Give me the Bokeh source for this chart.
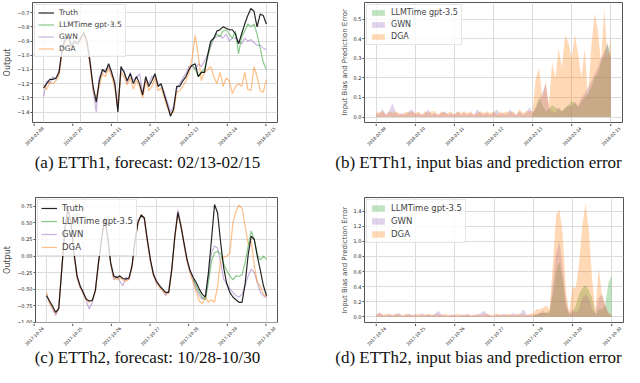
from math import pi
from bokeh.plotting import figure
from bokeh.models import Range1d, FixedTicker, Legend, LegendItem, Label, Grid
from bokeh.core.properties import value
from bokeh.layouts import column, row
from bokeh.embed import file_html
from bokeh.resources import INLINE

# ---------------- data ----------------
hours = list(range(0, 145, 2))          # 2-hourly samples over 6 days
FC = 48                                  # index where the forecast window begins
day_ticks = [0, 24, 48, 72, 96, 120, 144]
days_h1 = ["2018-02-09", "2018-02-10", "2018-02-11", "2018-02-12", "2018-02-13", "2018-02-14", "2018-02-15"]
days_h2 = ["2017-10-24", "2017-10-25", "2017-10-26", "2017-10-27", "2017-10-28", "2017-10-29", "2017-10-30"]

# (a) ETTh1 series
truth_a = [-1.23, -1.20, -1.17, -1.17, -1.16, -1.12, -0.95, -0.88, -0.87, -0.93,
           -0.90, -0.92, -0.88, -0.84, -0.90, -1.05, -1.22, -1.33, -1.18, -1.10,
           -1.12, -1.06, -1.12, -1.20, -1.40, -1.08, -1.12, -1.18, -1.13, -1.20,
           -1.15, -1.20, -1.28, -1.15, -1.22, -1.18, -1.13, -1.22, -1.20, -1.28,
           -1.35, -1.43, -1.38, -1.22, -1.22, -1.18, -1.15, -1.10, -1.07, -1.06,
           -1.15, -1.12, -1.12, -1.00, -0.90, -0.88, -0.83, -0.82, -0.80, -0.81,
           -0.82, -0.82, -0.85, -0.92, -0.85, -0.78, -0.72, -0.67, -0.69, -0.80,
           -0.71, -0.72, -0.78]
llm_a = [-1.07, -1.10, -1.15, -1.12, -1.10, -1.02, -0.92, -0.88, -0.85, -0.87,
         -0.83, -0.82, -0.85, -0.88, -0.83, -0.99, -0.87, -0.83, -0.78, -0.80,
         -0.78, -0.85, -0.95, -1.05, -1.10]
gwn_a = [-1.29, -1.18, -1.20, -1.15, -1.17, -1.10, -0.97, -0.90, -0.86, -0.95,
         -0.89, -0.93, -0.87, -0.85, -0.92, -1.03, -1.25, -1.40, -1.15, -1.12,
         -1.10, -1.08, -1.14, -1.18, -1.38, -1.10, -1.11, -1.20, -1.12, -1.18,
         -1.16, -1.13, -1.26, -1.17, -1.20, -1.15, -1.15, -1.20, -1.22, -1.26,
         -1.33, -1.40, -1.36, -1.24, -1.20, -1.16, -1.13, -1.08,
         -1.07, -1.10, -1.06, -1.08, -1.04, -1.00, -0.94, -0.88, -0.87, -0.86,
         -0.88, -0.85, -0.90, -0.88, -0.88, -0.90, -0.92, -0.88, -0.90, -0.89,
         -0.91, -0.93, -0.93, -0.95, -0.96]
dga_a = [-1.21, -1.24, -1.19, -1.20, -1.18, -1.14, -0.97, -0.90, -0.90, -0.95,
         -0.92, -0.90, -0.90, -0.86, -0.93, -1.07, -1.25, -1.30, -1.22, -1.13,
         -1.15, -1.09, -1.15, -1.23, -1.36, -1.12, -1.15, -1.21, -1.16, -1.24,
         -1.18, -1.22, -1.30, -1.18, -1.25, -1.22, -1.16, -1.25, -1.23, -1.30,
         -1.37, -1.41, -1.40, -1.26, -1.25, -1.22, -1.18, -1.12,
         -1.02, -0.86, -1.00, -1.18, -1.12, -1.10, -1.08, -1.15, -1.20, -1.12,
         -1.22, -1.16, -1.18, -1.27, -1.22, -1.20, -1.22, -1.12, -1.24, -1.25,
         -1.08, -1.15, -1.25, -1.26, -1.17]

# (b) ETTh1 input bias / prediction error
err_llm_b = [0.01, 0.05, 0.10, 0.06, 0.03, 0.04, 0.06, 0.05, 0.04, 0.03,
             0.05, 0.06, 0.08, 0.07, 0.05, 0.08, 0.10, 0.12, 0.15, 0.20,
             0.22, 0.28, 0.32, 0.38, 0.30]
err_gwn_b = [0.01, 0.02, 0.04, 0.01, 0.03, 0.07, 0.02, 0.01, 0.02, 0.01,
             0.03, 0.04, 0.01, 0.02, 0.01, 0.02, 0.04, 0.01, 0.02, 0.01,
             0.02, 0.03, 0.01, 0.02, 0.01, 0.03, 0.01, 0.02, 0.01, 0.02,
             0.01, 0.04, 0.02, 0.01, 0.02, 0.01, 0.02, 0.04, 0.01, 0.02,
             0.01, 0.04, 0.02, 0.01, 0.03, 0.01, 0.02, 0.05,
             0.02, 0.05, 0.08, 0.12, 0.17, 0.05, 0.03, 0.02, 0.05, 0.03,
             0.04, 0.06, 0.05, 0.08, 0.06, 0.10, 0.12, 0.15, 0.18, 0.22,
             0.25, 0.30, 0.33, 0.37, 0.30]
err_dga_b = [0.03, 0.02, 0.03, 0.01, 0.03, 0.02, 0.03, 0.02, 0.01, 0.03,
             0.02, 0.03, 0.02, 0.03, 0.01, 0.03, 0.02, 0.03, 0.03, 0.01,
             0.03, 0.02, 0.02, 0.03, 0.01, 0.03, 0.02, 0.03, 0.02, 0.03,
             0.01, 0.02, 0.03, 0.02, 0.03, 0.02, 0.03, 0.01, 0.03, 0.02,
             0.03, 0.02, 0.03, 0.01, 0.04, 0.02, 0.03, 0.03,
             0.03, 0.20, 0.25, 0.10, 0.18, 0.06, 0.28, 0.20, 0.35, 0.25,
             0.42, 0.38, 0.30, 0.42, 0.32, 0.20, 0.35, 0.10, 0.35, 0.53,
             0.45, 0.28, 0.55, 0.30, 0.40]

# (c) ETTh2 series
truth_c = [-0.60, -0.68, -0.76, -0.85, -0.80, -0.20, 0.40, 0.72, 0.52, 0.05,
           -0.30, -0.45, -0.55, -0.65, -0.68, -0.67, -0.52, -0.10, 0.25, 0.57,
           0.30, -0.10, -0.30, -0.33, -0.30, -0.34, -0.35, -0.33, -0.15, 0.25,
           0.52, 0.62, 0.58, 0.25, -0.05, -0.28, -0.38, -0.45, -0.50, -0.55,
           -0.55, -0.20, 0.30, 0.66, 0.45, 0.20, -0.05, -0.22, -0.32, -0.40,
           -0.50, -0.58, -0.62, -0.25, 0.25, 0.78, 0.65, 0.20, -0.18, -0.42,
           -0.55, -0.62, -0.66, -0.70, -0.70, -0.42, 0.02, 0.30, 0.25, 0.00,
           -0.22, -0.45, -0.60]
llm_c = [-0.35, -0.45, -0.55, -0.63, -0.66, -0.40, -0.08, 0.05, 0.07, 0.04,
         -0.12, -0.22, -0.30, -0.36, -0.30, -0.31, -0.28, -0.10, 0.15, 0.38,
         0.25, 0.02, -0.06, 0.00, -0.05]
gwn_c = [-0.58, -0.70, -0.80, -0.90, -0.78, -0.22, 0.38, 0.70, 0.55, 0.02,
         -0.33, -0.48, -0.52, -0.68, -0.80, -0.70, -0.50, -0.12, 0.22, 0.58,
         0.28, -0.12, -0.36, -0.30, -0.38, -0.45, -0.32, -0.36, -0.12, 0.22,
         0.55, 0.60, 0.56, 0.22, -0.08, -0.25, -0.42, -0.43, -0.52, -0.60,
         -0.52, -0.18, 0.28, 0.70, 0.48, 0.17, -0.08, -0.25,
         -0.35, -0.50, -0.60, -0.65, -0.60, -0.30, 0.05, 0.15, 0.12, -0.10,
         -0.35, -0.42, -0.50, -0.55, -0.60, -0.62, -0.58, -0.45, -0.30, -0.20,
         -0.25, -0.40, -0.55, -0.60, -0.63]
dga_c = [-0.55, -0.72, -0.78, -0.87, -0.78, -0.18, 0.42, 0.70, 0.50, 0.03,
         -0.32, -0.47, -0.57, -0.66, -0.70, -0.66, -0.54, -0.12, 0.23, 0.55,
         0.28, -0.12, -0.33, -0.36, -0.32, -0.36, -0.38, -0.35, -0.17, 0.23,
         0.50, 0.63, 0.56, 0.22, -0.08, -0.30, -0.40, -0.48, -0.52, -0.57,
         -0.57, -0.22, 0.28, 0.62, 0.48, 0.18, -0.08, -0.25,
         -0.40, -0.55, -0.68, -0.72, -0.62, -0.70, -0.66, -0.70, -0.45, -0.05,
         -0.02, 0.00, 0.04, 0.50, 0.68, 0.77, 0.72, 0.45, 0.18, 0.22,
         -0.15, -0.40, -0.46, -0.58, -0.62]

# (d) ETTh2 input bias / prediction error
err_llm_d = [0.02, 0.03, 0.05, 0.05, 0.05, 0.08, 0.30, 0.60, 0.72, 0.50,
             0.15, 0.03, 0.05, 0.15, 0.30, 0.38, 0.42, 0.35, 0.25, 0.02,
             0.10, 0.10, 0.15, 0.45, 0.55]
err_gwn_d = [0.02, 0.06, 0.03, 0.01, 0.04, 0.02, 0.03, 0.05, 0.01, 0.02,
             0.04, 0.02, 0.03, 0.01, 0.05, 0.02, 0.03, 0.02, 0.04, 0.08,
             0.03, 0.02, 0.01, 0.03, 0.02, 0.01, 0.03, 0.02, 0.04, 0.01,
             0.02, 0.03, 0.05, 0.08, 0.03, 0.02, 0.01, 0.03, 0.02, 0.04,
             0.02, 0.03, 0.05, 0.02, 0.04, 0.10, 0.03, 0.02,
             0.02, 0.03, 0.05, 0.08, 0.05, 0.05, 0.45, 0.85, 1.00, 0.65,
             0.20, 0.05, 0.10, 0.05, 0.10, 0.25, 0.30, 0.25, 0.10, 0.05,
             0.25, 0.30, 0.15, 0.05, 0.02]
err_dga_d = [0.03, 0.05, 0.02, 0.04, 0.03, 0.02, 0.04, 0.03, 0.02, 0.04,
             0.03, 0.02, 0.03, 0.04, 0.02, 0.03, 0.04, 0.02, 0.03, 0.03,
             0.02, 0.04, 0.03, 0.02, 0.03, 0.04, 0.02, 0.03, 0.03, 0.02,
             0.03, 0.03, 0.02, 0.03, 0.04, 0.02, 0.03, 0.04, 0.03, 0.02,
             0.04, 0.03, 0.02, 0.04, 0.03, 0.03, 0.02, 0.04,
             0.05, 0.10, 0.10, 0.12, 0.15, 0.10, 0.70, 1.35, 1.42, 1.10,
             0.35, 0.05, 0.40, 0.38, 0.70, 1.20, 1.50, 1.15, 0.50, 0.08,
             0.65, 0.30, 0.15, 0.05, 0.02]

yt_a = [-1.4, -1.3, -1.2, -1.1, -1.0, -0.9, -0.8, -0.7]
yl_a = ["\u22121.4", "\u22121.3", "\u22121.2", "\u22121.1", "\u22121.0", "\u22120.9", "\u22120.8", "\u22120.7"]
yt_b = [0.0, 0.1, 0.2, 0.3, 0.4, 0.5]
yl_b = ["0.0", "0.1", "0.2", "0.3", "0.4", "0.5"]
yt_c = [-1.0, -0.75, -0.5, -0.25, 0.0, 0.25, 0.5, 0.75]
yl_c = ["\u22121.00", "\u22120.75", "\u22120.50", "\u22120.25", "0.00", "0.25", "0.50", "0.75"]
yt_d = [0.0, 0.2, 0.4, 0.6, 0.8, 1.0, 1.2, 1.4]
yl_d = ["0.0", "0.2", "0.4", "0.6", "0.8", "1.0", "1.2", "1.4"]

captions_top = ["(a) ETTh1, forecast: 02/13-02/15", "(b) ETTh1, input bias and prediction error"]
captions_bot = ["(c) ETTh2, forecast: 10/28-10/30", "(d) ETTh2, input bias and prediction error"]

# ---------------- style ----------------
C_TRUTH = "#000000"
C_LLM = "#2ca02c"
C_GWN = "#9467bd"
C_DGA = "#ff7f0e"
FONT = "DejaVu Sans"
SERIF = "Liberation Serif"
XR = (-7.2, 151.2)
GRID = "#dcdcdc"
EDGE = "#555555"


def base(width, height, yr, yticks, ylabels, ylabel, ylabel_size, bl, br, bt, bb):
    p = figure(width=width, height=height, x_range=Range1d(*XR), y_range=Range1d(*yr),
               x_axis_type=None, output_backend="svg", toolbar_location=None,
               min_border_left=bl, min_border_right=br, min_border_top=bt, min_border_bottom=bb)
    p.background_fill_color = "white"
    p.border_fill_color = "white"
    p.outline_line_color = EDGE
    p.outline_line_width = 1
    p.add_layout(Grid(dimension=0, ticker=FixedTicker(ticks=day_ticks),
                      grid_line_color=GRID, grid_line_width=1))
    p.yaxis.ticker = FixedTicker(ticks=yticks)
    p.yaxis.major_label_overrides = {t: l for t, l in zip(yticks, ylabels)}
    ax = p.yaxis[0]
    ax.axis_line_color = None
    ax.major_tick_line_color = EDGE
    ax.major_tick_out = 2
    ax.major_tick_in = 0
    ax.minor_tick_line_color = None
    ax.major_label_text_font = FONT
    ax.major_label_text_color = "#222222"
    ax.major_label_standoff = 1
    ax.major_label_text_font_size = "5px"
    ax.axis_label = ylabel
    ax.axis_label_text_font = FONT
    ax.axis_label_text_font_style = "normal"
    ax.axis_label_text_font_size = ylabel_size
    ax.axis_label_standoff = 2
    p.ygrid.grid_line_color = GRID
    p.ygrid.grid_line_width = 1
    return p


def date_strip(width, height, bl, br, xlabels):
    """Tick marks and rotated date labels, centred under each day tick (matplotlib style)."""
    s = figure(width=width, height=height, x_range=Range1d(*XR), y_range=Range1d(0, height),
               output_backend="svg", toolbar_location=None, x_axis_type=None, y_axis_type=None,
               min_border_left=bl, min_border_right=br, min_border_top=0, min_border_bottom=0)
    s.grid.visible = False
    s.outline_line_color = None
    s.border_fill_color = "white"
    n = len(day_ticks)
    s.segment(x0=day_ticks, y0=[height] * n, x1=day_ticks, y1=[height - 2.5] * n,
              line_color=EDGE, line_width=1)
    s.text(x=day_ticks, y=[height - 12.5] * n, text=xlabels, angle=pi / 4,
           text_align="center", text_baseline="middle",
           text_font=value(FONT), text_font_size="4.2px", text_color="#222222")
    return s


def style_legend(lg, fs, gh, sp):
    lg.location = "top_left"
    lg.label_text_font = FONT
    lg.label_text_font_size = fs
    lg.label_height = gh
    lg.glyph_height = gh
    lg.glyph_width = 16
    lg.spacing = sp
    lg.padding = 3
    lg.margin = 2
    lg.label_standoff = 5
    lg.border_line_color = "#cccccc"
    lg.background_fill_alpha = 0.8


def series_fig(width, height, yr, yticks, ylabels, truth, llm, gwn, dga, bl, br, bt, bb, fs, gh, sp):
    p = base(width, height, yr, yticks, ylabels, "Output", "8px", bl, br, bt, bb)
    r_gwn = p.line(hours, gwn, line_color=C_GWN, line_alpha=0.5, line_width=1.2)
    r_dga = p.line(hours, dga, line_color=C_DGA, line_alpha=0.5, line_width=1.2)
    r_llm = p.line(hours[FC:], llm, line_color=C_LLM, line_alpha=0.55, line_width=1.2)
    r_tr = p.line(hours, truth, line_color=C_TRUTH, line_alpha=0.85, line_width=1.2)
    lg = Legend(items=[LegendItem(label="Truth", renderers=[r_tr]),
                       LegendItem(label="LLMTime gpt-3.5", renderers=[r_llm]),
                       LegendItem(label="GWN", renderers=[r_gwn]),
                       LegendItem(label="DGA", renderers=[r_dga])])
    style_legend(lg, fs, gh, sp)
    p.add_layout(lg)
    return p


def error_fig(width, height, yr, yticks, ylabels, e_llm, e_gwn, e_dga, bl, br, bt, bb, fs, gh, sp):
    p = base(width, height, yr, yticks, ylabels, "Input Bias and Prediction Error", "7px", bl, br, bt, bb)
    r_llm = p.varea(x=hours[FC:], y1=[0.0] * len(e_llm), y2=e_llm, fill_color=C_LLM, fill_alpha=0.3)
    r_gwn = p.varea(x=hours, y1=[0.0] * len(e_gwn), y2=e_gwn, fill_color=C_GWN, fill_alpha=0.3)
    r_dga = p.varea(x=hours, y1=[0.0] * len(e_dga), y2=e_dga, fill_color=C_DGA, fill_alpha=0.3)
    lg = Legend(items=[LegendItem(label="LLMTime gpt-3.5", renderers=[r_llm]),
                       LegendItem(label="GWN", renderers=[r_gwn]),
                       LegendItem(label="DGA", renderers=[r_dga])])
    style_legend(lg, fs, gh, sp)
    p.add_layout(lg)
    return p


def caption_strip(height, texts, xs):
    p = figure(width=624, height=height, x_range=Range1d(0, 624), y_range=Range1d(0, height),
               output_backend="svg", toolbar_location=None, x_axis_type=None, y_axis_type=None,
               min_border=0)
    p.grid.visible = False
    p.outline_line_color = None
    p.border_fill_color = "white"
    for t, x in zip(texts, xs):
        p.add_layout(Label(x=x, y=height / 2.0, text=t, text_align="center", text_baseline="middle",
                           text_font=SERIF, text_font_size="17px", text_color="#111111"))
    return p


pa = series_fig(314, 123, (-1.474, -0.628), yt_a, yl_a, truth_a, llm_a, gwn_a, dga_a,
                22, 37, 2, 1, "7.5px", 7, 3)
pb = error_fig(310, 123, (-0.028, 0.585), yt_b, yl_b, err_llm_b, err_gwn_b, err_dga_b,
               50, 2, 2, 1, "8px", 7, 3)
sa = date_strip(314, 26, 22, 37, days_h1)
sb = date_strip(310, 26, 50, 2, days_h1)

pc = series_fig(314, 148, (-1.005, 0.885), yt_c, yl_c, truth_c, llm_c, gwn_c, dga_c,
                22, 37, 22, 1, "8.5px", 8, 3)
pd_ = error_fig(310, 148, (-0.075, 1.58), yt_d, yl_d, err_llm_d, err_gwn_d, err_dga_d,
                50, 1, 22, 1, "8.5px", 8, 3)
sc = date_strip(314, 24, 22, 37, days_h2)
sd = date_strip(310, 24, 50, 1, days_h2)

cap1 = caption_strip(26, captions_top, [147, 478])
cap2 = caption_strip(20, captions_bot, [147, 478])

layout = column(row(pa, pb), row(sa, sb), cap1, row(pc, pd_), row(sc, sd), cap2)

open("out.html", "w").write(file_html(layout, INLINE))
